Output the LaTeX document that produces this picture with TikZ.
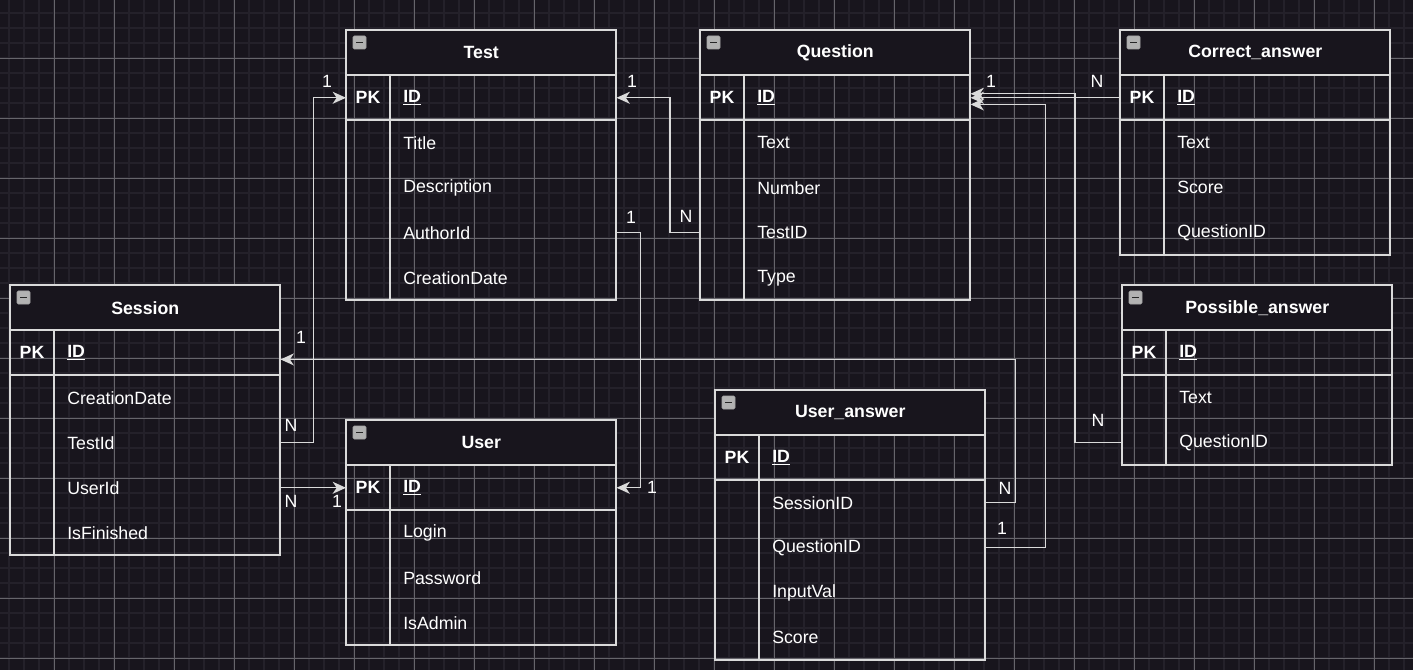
\documentclass[tikz,border=0pt]{standalone}
\usepackage{fontspec}
\setmainfont{Liberation Sans}
\usetikzlibrary{arrows.meta}

\definecolor{canvas}{HTML}{18151D}
\definecolor{gridminor}{HTML}{24212A}
\definecolor{gridmajor}{HTML}{66656B}
\definecolor{wire}{HTML}{DADADA}
\newcommand{\erfont}{\fontsize{13.3}{16}\selectfont}

\tikzset{
  hdr/.style={anchor=north west, minimum width=202.5pt, minimum height=33.75pt, inner sep=0pt, fill=canvas, text=white, font=\bfseries\erfont},
  row/.style={anchor=north west, minimum height=33.75pt, inner ysep=0pt, inner xsep=42.75pt, text width=117pt, align=left, text=white, font=\erfont},
  pk/.style={text=white, font=\bfseries\erfont},
  frame/.style={wire, line width=1pt},
  icon/.style={draw=gray!70, fill=gray!60, line width=0.6pt, rounded corners=1pt},
  iconbar/.style={black!85, line width=1.4pt},
  fk/.style={wire, line width=1pt, -{Stealth[length=10pt, width=9pt, inset=3pt]}},
  card/.style={text=white, font=\erfont, inner sep=0pt}
}

% #1 name, #2 left, #3 top, #4 title, #5 number of fields, #6 fields
\newcommand{\entity}[6]{%
  \node[hdr] (#1) at (#2,#3) {#4};
  \draw[icon] ({#2+7},{#3+6}) rectangle ({#2+20},{#3+19});
  \draw[iconbar] ({#2+10},{#3+12.5}) -- ({#2+17},{#3+12.5});
  \node[row, font=\bfseries\erfont] (#1-pk) at (#2,{#3+45}) {\underline{ID}};
  \node[pk] at ({#2+22},{#3+67.5}) {PK};
  \foreach \f [count=\i] in {#6}
    \node[row] (#1-\i) at (#2,{#3+45+45*\i}) {\f};
  \draw[frame] (#2,#3) rectangle ({#2+270},{#3+90+45*#5});
  \draw[frame] (#2,{#3+45}) -- ++(270,0);
  \draw[frame] (#2,{#3+90}) -- ++(270,0);
  \draw[frame] ({#2+44},{#3+45}) -- ({#2+44},{#3+90+45*#5});
}

\begin{document}
\begin{tikzpicture}[x=0.75pt, y=-0.75pt]
  % canvas and grid
  \fill[canvas] (0,0) rectangle (1413,670);
  \useasboundingbox (0,0) rectangle (1413,670);
  \foreach \gx in {9,24,...,1413} \draw[gridminor, line width=1.2pt] (\gx,0) -- (\gx,670);
  \foreach \gy in {13,28,...,670} \draw[gridminor, line width=1.2pt] (0,\gy) -- (1413,\gy);
  \foreach \gx in {54,114,...,1413} \draw[gridmajor, line width=0.6pt] (\gx,0) -- (\gx,670);
  \foreach \gy in {58,118,...,670} \draw[gridmajor, line width=0.6pt] (0,\gy) -- (1413,\gy);

  % entities
  \entity{test}{346}{30}{Test}{4}{Title,Description,AuthorId,CreationDate}
  \entity{question}{700}{30}{Question}{4}{Text,Number,TestID,Type}
  \entity{correct}{1120}{30}{Correct\_answer}{3}{Text,Score,QuestionID}
  \entity{possible}{1122}{285}{Possible\_answer}{2}{Text,QuestionID}
  \entity{session}{10}{285}{Session}{4}{CreationDate,TestId,UserId,IsFinished}
  \entity{user}{346}{420}{User}{3}{Login,Password,IsAdmin}
  \entity{useranswer}{715}{390}{User\_answer}{4}{SessionID,QuestionID,InputVal,Score}

  % relations
  \draw[fk] (test-3.east) -- ++(24,0) |- (user-pk.east);
  \draw[fk] (question-3.west) -- ++(-30,0) |- (test-pk.east);
  \draw[fk] (correct-pk.west) -- (question-pk.east);
  \draw[fk] (possible-2.west) -- ++(-47,0) |- ([yshift=3pt]question-pk.east);
  \draw[fk] (useranswer-2.east) -- ++(60,0) |- ([yshift=-5pt]question-pk.east);
  \draw[fk] (useranswer-1.east) -- ++(30,0) |- ([yshift=-5pt]session-pk.east);
  \draw[fk] (session-2.east) -- ++(33,0) |- (test-pk.west);
  \draw[fk] (session-3.east) -- (user-pk.west);

  % cardinalities
  \node[card] (c-test-in) at (327,81) {1};
  \node[card] (c-session-test) at (291,425) {N};
  \node[card] (c-test-q) at (632,81) {1};
  \node[card] (c-question-test) at (686,216) {N};
  \node[card] (c-test-author) at (631,217) {1};
  \node[card] (c-user-author) at (652,487) {1};
  \node[card] (c-question-in) at (991,81) {1};
  \node[card] (c-correct) at (1097,81) {N};
  \node[card] (c-possible) at (1098,420) {N};
  \node[card] (c-session-in) at (301,337) {1};
  \node[card] (c-ua-session) at (1005,488) {N};
  \node[card] (c-ua-question) at (1002,528) {1};
  \node[card] (c-session-user) at (291,501) {N};
  \node[card] (c-user-in) at (337,501) {1};
\end{tikzpicture}
\end{document}
